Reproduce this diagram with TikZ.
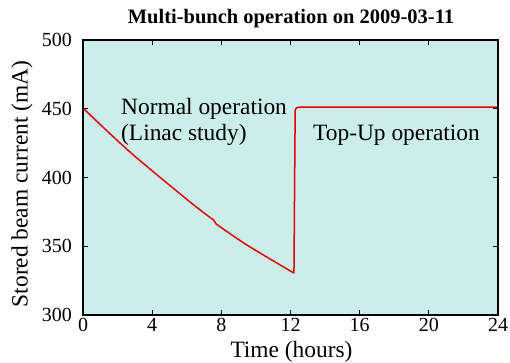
\documentclass[tikz,border=0pt]{standalone}
\usepackage{fontspec}
\setmainfont{Liberation Serif}
\usetikzlibrary{positioning}
\definecolor{plotBg}{RGB}{204,238,234}
\definecolor{beamRed}{RGB}{228,0,0}

\begin{document}
\begin{tikzpicture}[x=1pt,y=1pt,
    ticklabel/.style={font=\fontsize{20}{24}\selectfont, inner sep=0pt},
    axislabel/.style={font=\fontsize{23.4}{28}\selectfont, inner sep=0pt},
    note/.style={font=\fontsize{23.4}{28}\selectfont, inner sep=0pt}]
  \useasboundingbox (0,0) rectangle (510,363);
  % Plot area
  \fill[plotBg] (83,48) rectangle (498,323);
  \begin{scope}[shift={(83,48)}, x=17.2917pt, y=1.375pt]
    % Ticks and labels, time axis
    \foreach \t in {0,4,...,24} {
      \draw[line width=0.8pt] (\t,0) -- ++(0,5pt);
      \draw[line width=0.8pt] (\t,200) -- ++(0,-5pt);
      \node[ticklabel, anchor=north, yshift=-3pt] (xt\t) at (\t,0) {\t};
    }
    % Ticks and labels, current axis
    \foreach \i in {300,350,...,500} {
      \draw[line width=0.8pt] (0,\i-300) -- ++(5pt,0);
      \draw[line width=0.8pt] (24,\i-300) -- ++(-5pt,0);
      \node[ticklabel, anchor=east, xshift=-11pt] (yt\i) at (0,\i-300) {\i};
    }
    % Stored current
    \draw[beamRed, line width=1.5pt, line join=round]
      plot[smooth] coordinates {(0,150.5) (2.72,118.5) (6.19,82.2) (7.55,69.1)}
      -- plot[smooth] coordinates {(7.7,66.2) (9.48,50.9) (12.2,30.5)}
      -- (12.27,149) to[out=90,in=180] (12.5,151.2) -- (24,151.2);
  \end{scope}
  % Frame
  \draw[line width=1.1pt] (83,48) rectangle (498,323);
  % Title
  \node[font=\bfseries\fontsize{20.5}{24}\selectfont, inner sep=0pt] (title) at (291,344)
    {Multi-bunch operation on 2009-03-11};
  % Axis labels
  \node[axislabel, anchor=base] (xlabel) at (291.5,5.5) {Time (hours)};
  \node[axislabel, rotate=90] (ylabel) at (22,179) {Stored beam current (mA)};
  % Annotations
  \node[note, anchor=base west] (normal) at (121,248) {Normal operation};
  \node[note, anchor=base west] (linac) at (121,222) {(Linac study)};
  \node[note, anchor=base west] (topup) at (313,222) {Top-Up operation};
\end{tikzpicture}
\end{document}
